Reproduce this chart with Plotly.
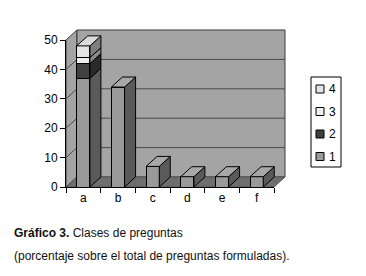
import plotly.graph_objects as go

# ---- data ----
categories = ["a", "b", "c", "d", "e", "f"]
series_names = ["1", "2", "3", "4"]
s1 = [37, 34, 7, 3.5, 3.5, 3.5]
s2 = [5, 0, 0, 0, 0, 0]
s3 = [2, 0, 0, 0, 0, 0]
s4 = [4, 0, 0, 0, 0, 0]
y_ticks = [0, 10, 20, 30, 40, 50]
caption_bold = "Gráfico 3."
caption_1 = "Clases de preguntas"
caption_2 = "(porcentaje sobre el total de preguntas formuladas)."

# ---- style ----
series_values = [s1, s2, s3, s4]
front_colors = ["#9A9A9A", "#404040", "#EEEEEE", "#E4E4E4"]
side_colors = ["#5A5A5A", "#2A2A2A", "#8A8A8A", "#7E7E7E"]
top_colors = ["#A8A8A8", "#555555", "#F2F2F2", "#DADADA"]
W, H = 366, 276
ML, MR, MT, MB = 66, 92, 40, 89
PW, PH = W - ML - MR, H - MT - MB
YMAX = 50
NCAT = len(categories)
BAR_W = 0.38
DX_PX, DY_PX = 11, 10
dx, dy = DX_PX / PW, DY_PX / PH


def xp(v):  # category coordinate -> paper
    return (v + 0.5) / NCAT


def yp(v):  # value -> paper
    return v / YMAX


def px_x(p):
    return (p - ML) / PW


def px_y(p):
    return (H - MB - p) / PH


def poly(pts):
    return "M " + " L ".join(f"{x:.5f},{y:.5f}" for x, y in pts) + " Z"


fig = go.Figure()
for name, vals, col in zip(series_names, series_values, front_colors):
    fig.add_trace(go.Bar(
        x=categories, y=[v if v else None for v in vals], name=name,
        width=BAR_W, marker=dict(color=col, line=dict(color="#000000", width=1)),
        showlegend=False,
    ))

shapes = []
wall = "#A4A4A4"
edge = "#3A3A3A"
# left wall
shapes.append(dict(type="path", xref="paper", yref="paper", layer="below",
                   path=poly([(0, 0), (dx, dy), (dx, 1 + dy), (0, 1)]),
                   fillcolor=wall, line=dict(color=edge, width=1)))
# back wall
shapes.append(dict(type="path", xref="paper", yref="paper", layer="below",
                   path=poly([(dx, dy), (1 + dx, dy), (1 + dx, 1 + dy), (dx, 1 + dy)]),
                   fillcolor=wall, line=dict(color=edge, width=1)))
# floor
shapes.append(dict(type="path", xref="paper", yref="paper", layer="below",
                   path=poly([(0, 0), (1, 0), (1 + dx, dy), (dx, dy)]),
                   fillcolor="#6E6E6E", line=dict(color="#555555", width=1)))
# gridlines on walls
for t in y_ticks[1:-1]:
    shapes.append(dict(type="line", xref="paper", yref="paper", layer="below",
                       x0=dx, x1=1 + dx, y0=yp(t) + dy, y1=yp(t) + dy,
                       line=dict(color="#4A4A4A", width=1)))
    shapes.append(dict(type="line", xref="paper", yref="paper", layer="below",
                       x0=0, x1=dx, y0=yp(t), y1=yp(t) + dy,
                       line=dict(color="#4A4A4A", width=1)))

# 3D side and top faces of bars, from the data
for i in range(NCAT):
    base = 0
    xl, xr = xp(i - BAR_W / 2), xp(i + BAR_W / 2)
    top_k = None
    for k, vals in enumerate(series_values):
        v = vals[i]
        if not v:
            continue
        b, t = yp(base), yp(base + v)
        shapes.append(dict(type="path", xref="paper", yref="paper", layer="above",
                           path=poly([(xr, b), (xr + dx, b + dy), (xr + dx, t + dy), (xr, t)]),
                           fillcolor=side_colors[k], line=dict(color="#000000", width=1)))
        base += v
        top_k = k
    if top_k is not None:
        T = yp(base)
        shapes.append(dict(type="path", xref="paper", yref="paper", layer="above",
                           path=poly([(xl, T), (xl + dx, T + dy), (xr + dx, T + dy), (xr, T)]),
                           fillcolor=top_colors[top_k], line=dict(color="#000000", width=1)))

# custom legend box (4 at top ... 1 at bottom)
lg_x0, lg_x1, lg_y0, lg_y1 = px_x(311), px_x(341), px_y(167), px_y(77)
shapes.append(dict(type="rect", xref="paper", yref="paper", x0=lg_x0, x1=lg_x1, y0=lg_y0, y1=lg_y1,
                   line=dict(color="#000000", width=1), fillcolor="white"))
annotations = []
item_centers = [156.5, 134, 111.5, 89]
for name, col, cy in zip(series_names, front_colors, item_centers):
    shapes.append(dict(type="rect", xref="paper", yref="paper",
                       x0=px_x(316), x1=px_x(324), y0=px_y(cy + 4), y1=px_y(cy - 4),
                       fillcolor=col, line=dict(color="#000000", width=1)))
    annotations.append(dict(xref="paper", yref="paper", x=px_x(327), y=px_y(cy), text=name,
                            showarrow=False, xanchor="left", yanchor="middle",
                            font=dict(size=12, color="#000000")))

annotations.append(dict(xref="paper", yref="paper", x=px_x(12), y=px_y(233),
                        text=f"<b>{caption_bold}</b> {caption_1}", showarrow=False,
                        xanchor="left", yanchor="middle", font=dict(size=12, color="#111111")))
annotations.append(dict(xref="paper", yref="paper", x=px_x(12), y=px_y(256),
                        text=caption_2, showarrow=False,
                        xanchor="left", yanchor="middle", font=dict(size=12, color="#111111")))

fig.update_layout(
    width=W, height=H, barmode="stack",
    margin=dict(l=ML, r=MR, t=MT, b=MB, pad=0),
    paper_bgcolor="white", plot_bgcolor="rgba(0,0,0,0)",
    font=dict(family="Liberation Sans, Arial, sans-serif", size=12, color="#000000"),
    shapes=shapes, annotations=annotations, showlegend=False,
    xaxis=dict(type="category", range=[-0.5, NCAT - 0.5], showline=True, linecolor="#000000",
               linewidth=1, ticks="outside", tickson="boundaries", ticklen=5,
               tickcolor="#000000", showgrid=False, zeroline=False, fixedrange=True),
    yaxis=dict(range=[0, YMAX], tickvals=y_ticks, showline=True, linecolor="#000000",
               linewidth=1, ticks="outside", ticklen=5, tickcolor="#000000",
               showgrid=False, zeroline=False, fixedrange=True),
)

fig.write_html("out.html", config={"displayModeBar": False},
               post_script="document.body.style.margin='0';")
